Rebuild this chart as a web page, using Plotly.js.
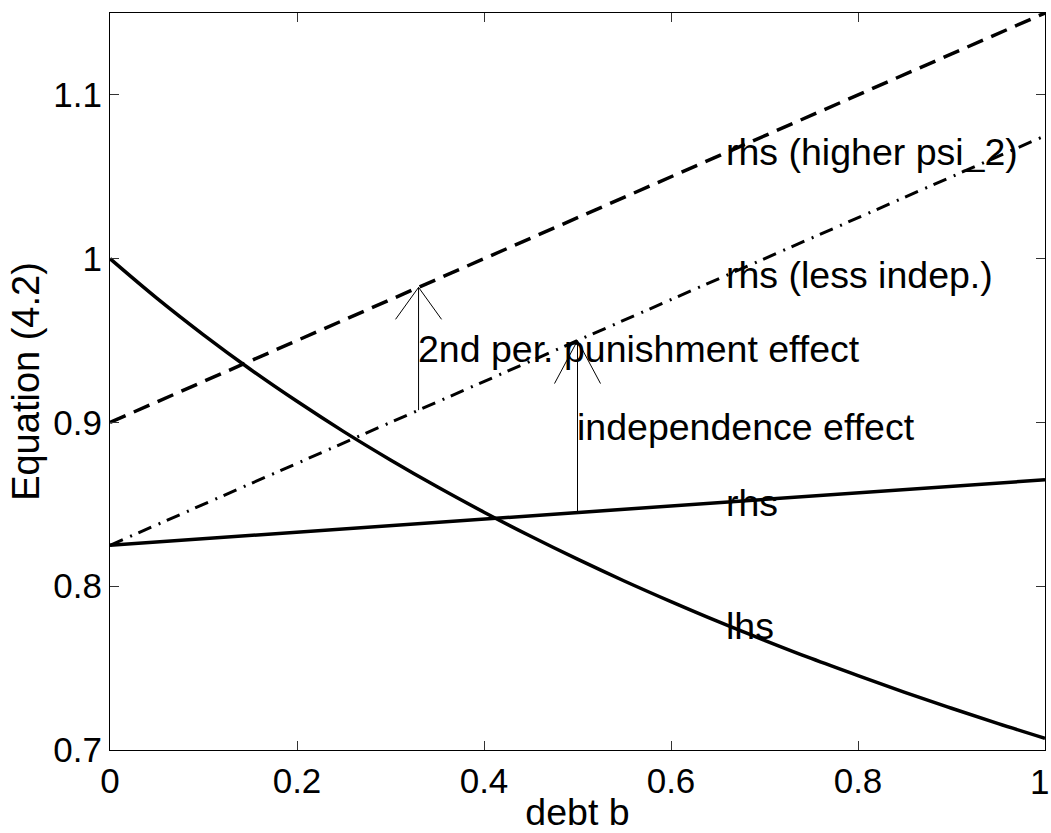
<!DOCTYPE html>
<html>
<head>
<meta charset="utf-8">
<script src="https://cdn.plot.ly/plotly-3.0.1.min.js"></script>
<style>html,body{margin:0;padding:0;background:#fff;}#chart{width:1051px;height:833px;}</style>
</head>
<body>
<div id="chart"></div>
<script>
// debt levels
const debt = [0, 0.05, 0.1, 0.15, 0.2, 0.25, 0.3, 0.35, 0.4, 0.45, 0.5, 0.55, 0.6, 0.65, 0.7, 0.75, 0.8, 0.85, 0.9, 0.95, 1];
// left-hand side of equation (4.2)
const lhs = [1.0000, 0.9759, 0.9535, 0.9325, 0.9129, 0.8944, 0.8771, 0.8607, 0.8452, 0.8305, 0.8165, 0.8032, 0.7906, 0.7785, 0.7670, 0.7559, 0.7454, 0.7352, 0.7255, 0.7161, 0.7071];
// straight right-hand-side lines (end points)
const rhsX = [0, 1];
const rhs = [0.825, 0.865];
const rhsLessIndep = [0.825, 1.075];
const rhsHigherPsi = [0.900, 1.150];
// arrows: x position, base, tip
const arrowX = [0.33, 0.5];
const arrowBase = [0.9075, 0.845];
const arrowTip = [0.9825, 0.95];
const arrowHeadPx = [[23, 32], [23, 43]];
// text labels
const labelText = ['rhs (higher psi_2)', 'rhs (less indep.)', '2nd per. punishment effect', 'independence effect', 'rhs', 'lhs'];
const labelX = [0.66, 0.66, 0.33, 0.5, 0.66, 0.66];
const labelY = [1.065, 0.99, 0.945, 0.8975, 0.851, 0.776];
const xTicks = [0, 0.2, 0.4, 0.6, 0.8, 1];
const xTickText = ['0', '0.2', '0.4', '0.6', '0.8', '1'];
const yTicks = [0.7, 0.8, 0.9, 1, 1.1];
const yTickText = ['0.7', '0.8', '0.9', '1', '1.1'];

const FONT = 'Liberation Sans, Arial, Helvetica, sans-serif';
const W = 1051, H = 833;
const M = {l: 110, r: 6, t: 13, b: 83};
const xRange = [0, 1], yRange = [0.7, 1.15];
const pxX = (W - M.l - M.r) / (xRange[1] - xRange[0]);
const pxY = (H - M.t - M.b) / (yRange[1] - yRange[0]);

const traces = [
  {x: debt, y: lhs, mode: 'lines', line: {color: '#000', width: 3.5, shape: 'spline', smoothing: 1}, name: 'lhs'},
  {x: rhsX, y: rhs, mode: 'lines', line: {color: '#000', width: 3.5}, name: 'rhs'},
  {x: rhsX, y: rhsLessIndep, mode: 'lines', line: {color: '#000', width: 3, dash: '14px,8px,2px,7px'}, name: 'rhs (less indep.)'},
  {x: rhsX, y: rhsHigherPsi, mode: 'lines', line: {color: '#000', width: 3.5, dash: '17px,9px'}, name: 'rhs (higher psi_2)'}
];

const shapes = [];
arrowX.forEach((ax, i) => {
  const ln = {color: '#000', width: 1};
  shapes.push({type: 'line', xref: 'x', yref: 'y', x0: ax, x1: ax, y0: arrowBase[i], y1: arrowTip[i], line: ln});
  const dx = arrowHeadPx[i][0] / pxX, dy = arrowHeadPx[i][1] / pxY;
  shapes.push({type: 'line', xref: 'x', yref: 'y', x0: ax, x1: ax - dx, y0: arrowTip[i], y1: arrowTip[i] - dy, line: ln});
  shapes.push({type: 'line', xref: 'x', yref: 'y', x0: ax, x1: ax + dx, y0: arrowTip[i], y1: arrowTip[i] - dy, line: ln});
});

const annotations = labelText.map((t, i) => ({
  x: labelX[i], y: labelY[i], xref: 'x', yref: 'y', text: t, showarrow: false,
  xanchor: 'left', yanchor: 'middle', borderpad: 0, xshift: -2,
  font: {family: FONT, size: 37.5, color: '#000'}
}));
// last x tick label drawn as an annotation so it stays inside the picture
const lastTick = xTicks.length - 1;
annotations.push({
  x: xTicks[lastTick], y: 0, xref: 'x', yref: 'paper', text: xTickText[lastTick], showarrow: false,
  xanchor: 'right', yanchor: 'top', borderpad: 0, xshift: 5, yshift: -11,
  font: {family: FONT, size: 35, color: '#000'}
});
const xTickShown = xTickText.map((t, i) => i === lastTick ? '' : t);

const axisCommon = {
  showgrid: false, zeroline: false, showline: true, linecolor: '#000', linewidth: 1,
  mirror: 'ticks', ticks: 'inside', ticklen: 9, tickwidth: 1, tickcolor: '#333',
  tickfont: {family: FONT, size: 35, color: '#000'}
};

const layout = {
  width: W, height: H, margin: M,
  paper_bgcolor: '#fff', plot_bgcolor: '#fff', showlegend: false,
  font: {family: FONT, color: '#000'},
  xaxis: Object.assign({}, axisCommon, {range: xRange, tickvals: xTicks, ticktext: xTickShown,
    title: {text: 'debt b', font: {family: FONT, size: 37.5, color: '#000'}, standoff: 4}}),
  yaxis: Object.assign({}, axisCommon, {range: yRange, tickvals: yTicks, ticktext: yTickText,
    title: {text: 'Equation (4.2)', font: {family: FONT, size: 38, color: '#000'}, standoff: 2}}),
  shapes: shapes, annotations: annotations
};

Plotly.newPlot('chart', traces, layout, {staticPlot: true, displayModeBar: false});
</script>
</body>
</html>
